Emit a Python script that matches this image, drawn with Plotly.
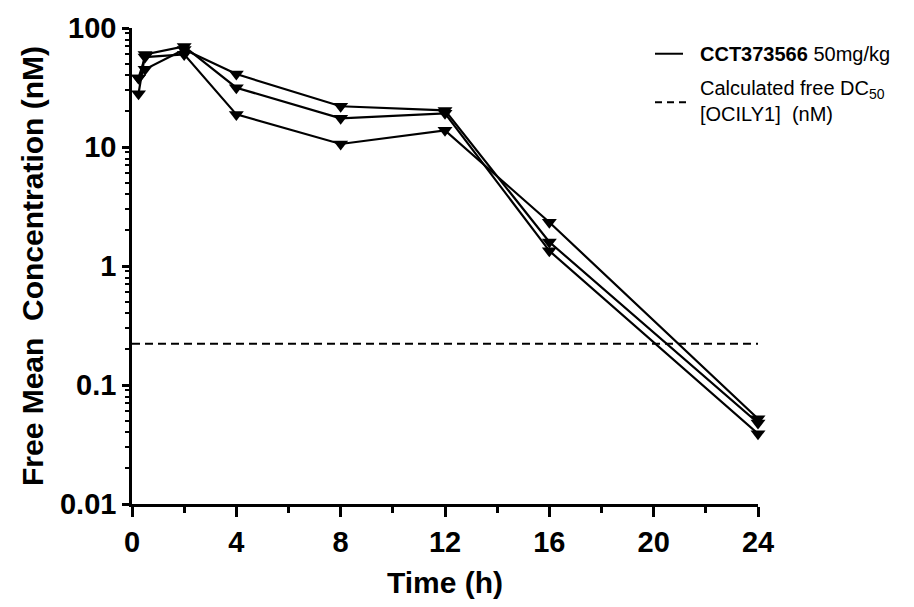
import plotly.graph_objects as go

# ---- data ----
time_h = [0.25, 0.5, 2, 4, 8, 12, 16, 24]
animal_1 = [38, 45, 66, 41, 22, 20.3, 1.59, 0.048]
animal_2 = [28, 60, 70, 31.5, 17.4, 19.2, 1.34, 0.039]
animal_3 = [38, 57, 60, 18.8, 10.6, 13.8, 2.33, 0.052]
series = [animal_1, animal_2, animal_3]

dc50_x = [0, 24]
dc50_value = 0.222

y_tick_vals = [0.01, 0.1, 1, 10, 100]
y_tick_text = ["0.01", "0.1", "1", "10", "100"]
y_minor_vals = [m * d for d in [0.01, 0.1, 1, 10] for m in range(2, 10)]
x_tick_vals = [0, 4, 8, 12, 16, 20, 24]
x_minor_vals = [2, 6, 10, 14, 18, 22]

FONT = "Liberation Sans, Arial, sans-serif"
W, H = 914, 607
L, R, T, B = 132, 156, 27, 99
PW, PH = W - L - R, H - T - B


def px_x(px):
    return (px - L) / PW


def px_y(py):
    return (H - B - py) / PH


fig = go.Figure()
for s in series:
    fig.add_trace(go.Scatter(
        x=time_h, y=s, mode="lines+markers",
        line=dict(color="black", width=2.2),
        marker=dict(symbol="triangle-down", size=13, color="black"),
        cliponaxis=False, showlegend=False))

fig.add_trace(go.Scatter(
    x=dc50_x, y=[dc50_value] * len(dc50_x), mode="lines",
    line=dict(color="black", width=2, dash="8px,5px"),
    showlegend=False))

# legend drawn manually
fig.add_shape(type="line", xref="paper", yref="paper",
              x0=px_x(655), x1=px_x(683), y0=px_y(53), y1=px_y(53),
              line=dict(color="black", width=2))
fig.add_shape(type="line", xref="paper", yref="paper",
              x0=px_x(655), x1=px_x(686), y0=px_y(102), y1=px_y(102),
              line=dict(color="black", width=2, dash="7px,5px"))
fig.add_annotation(xref="paper", yref="paper", x=px_x(698), y=px_y(53),
                   xanchor="left", yanchor="middle", showarrow=False,
                   text="<b>CCT373566</b> 50mg/kg",
                   font=dict(family=FONT, size=20, color="black"))
fig.add_annotation(xref="paper", yref="paper", x=px_x(698), y=px_y(101),
                   xanchor="left", yanchor="middle", showarrow=False, align="left",
                   text="Calculated free DC<sub>50</sub><br>[OCILY1]\u00a0\u00a0(nM)",
                   font=dict(family=FONT, size=20, color="black"))

fig.update_xaxes(
    range=[0, 24], tickmode="array", tickvals=x_tick_vals,
    ticktext=["<b>%d</b>" % v for v in x_tick_vals],
    ticks="outside", ticklen=10, tickwidth=2.5, tickcolor="black",
    minor=dict(ticks="outside", tickvals=x_minor_vals, ticklen=6,
               tickwidth=2.5, tickcolor="black", showgrid=False),
    showline=True, linewidth=3, linecolor="black", showgrid=False, zeroline=False,
    tickfont=dict(family=FONT, size=29, color="black"),
    title=dict(text="<b>Time (h)</b>", standoff=16,
               font=dict(family=FONT, size=30, color="black")))

fig.update_yaxes(
    type="log", range=[-2, 2], tickmode="array",
    tickvals=y_tick_vals, ticktext=["<b>%s</b>" % t for t in y_tick_text],
    ticks="outside", ticklen=7, tickwidth=2.5, tickcolor="black",
    minor=dict(ticks="outside", tickvals=y_minor_vals, ticklen=4,
               tickwidth=2, tickcolor="black", showgrid=False),
    showline=True, linewidth=2.5, linecolor="black", showgrid=False, zeroline=False,
    tickfont=dict(family=FONT, size=29, color="black"),
    title=dict(text="<b>Free Mean\u00a0\u00a0Concentration (nM)</b>", standoff=8,
               font=dict(family=FONT, size=30, color="black")))

fig.update_layout(
    width=W, height=H, margin=dict(l=L, r=R, t=T, b=B),
    paper_bgcolor="white", plot_bgcolor="white",
    font=dict(family=FONT, color="black"))

fig.write_html("out.html")
